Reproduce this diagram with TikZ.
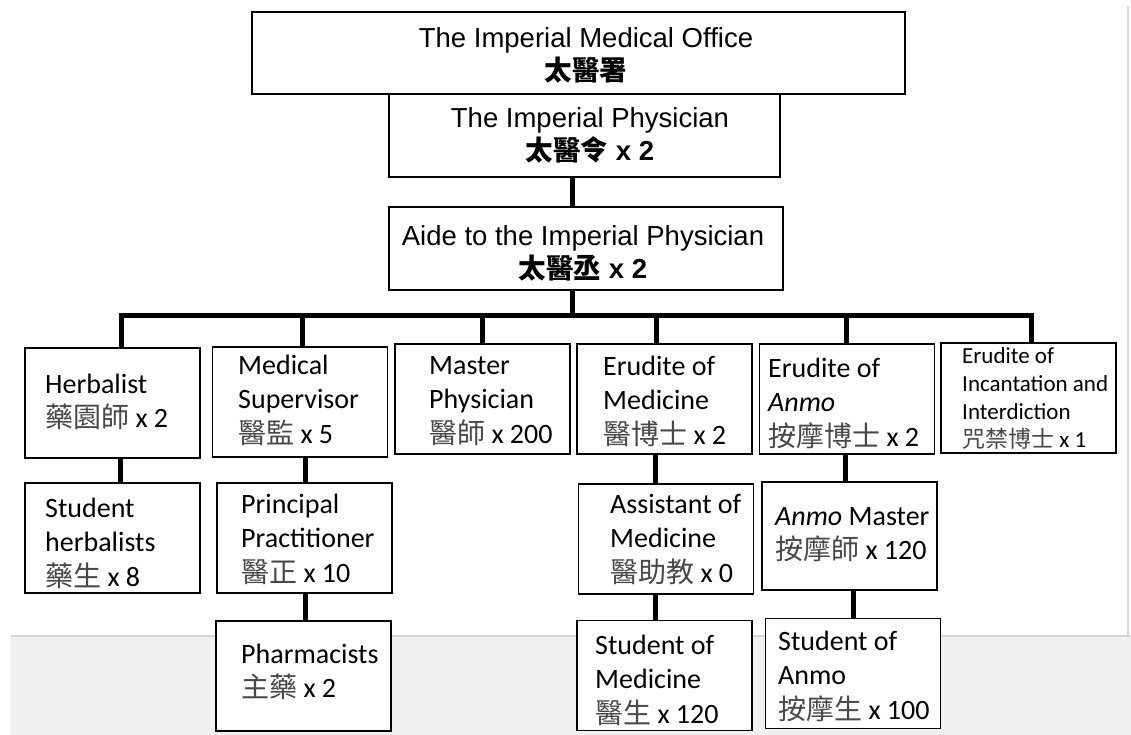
\documentclass[tikz,border=0pt]{standalone}
\usepackage{fontspec}
\setmainfont{Carlito}
\newfontfamily\arialfont{Liberation Sans}
\newfontfamily\cjk{Noto Sans CJK TC}
\usepackage{tikz}
\usetikzlibrary{positioning}
\definecolor{panelgray}{HTML}{F0F0F0}
\definecolor{panelline}{HTML}{D6D6D6}
\definecolor{hanzigray}{HTML}{484848}
\newcommand{\hanzi}[1]{{\cjk\color{hanzigray}#1}}
\tikzset{
  headbox/.style={draw, fill=white, line width=1.3pt, inner sep=0pt},
  headtext/.style={anchor=base, align=flush center, inner sep=0pt, text width=420pt,
    font=\arialfont\fontsize{27.5}{33}\selectfont},
  rankbox/.style={draw, fill=white, line width=1.2pt, inner sep=0pt,
    minimum width=175pt, minimum height=110pt},
  ranktext/.style={anchor=base west, align=flush left, inner sep=0pt, text width=165pt,
    font=\fontsize{28}{34.5}\selectfont},
  link/.style={line width=5pt}
}

\begin{document}
\begin{tikzpicture}[x=1pt, y=-1pt]
    \useasboundingbox (0,0) rectangle (1131,735);
    % window background
    \fill[white] (0,0) rectangle (1131,735);
    \fill[panelgray] (11,636) rectangle (1131,735);
    \draw[panelline, line width=2pt] (11,636) -- (1131,636);
    \draw[panelline, line width=2pt] (1128,6) -- (1128,636);

    % head offices
    \node[headbox, minimum width=653pt, minimum height=82pt] (office) at (578.5,53) {};
    \node[headbox, minimum width=391pt, minimum height=83pt] (phys) at (584.5,135.5) {};
    \node[headbox, minimum width=394pt, minimum height=83pt] (aide) at (586,248.5) {};
    \node[headtext] (office-t) at (586,48)
        {The Imperial Medical Office\\{\cjk\bfseries 太醫署}};
    \node[headtext] (phys-t) at (590,128)
        {The Imperial Physician\\\textbf{{\cjk 太醫令} x 2}};
    \node[headtext] (aide-t) at (583,245)
        {Aide to the Imperial Physician\\\textbf{{\cjk 太醫丞} x 2}};
    \coordinate (bus) at (572,315);

    % first rank
    \node[rankbox] (herb) at (112.5,403) {};
    \node[rankbox] (sup) at (300,402) {};
    \node[rankbox] (master) at (482.5,399) {};
    \node[rankbox] (erumed) at (664.5,399) {};
    \node[rankbox] (eruanmo) at (847,399) {};
    \node[rankbox] (incant) at (1028.5,398) {};

    % second and third rank
    \node[rankbox] (studherb) at (112.5,538) {};
    \node[rankbox] (princ) at (304.5,538) {};
    \node[rankbox] (pharm) at (303.5,676) {};
    \node[rankbox] (asst) at (666,539) {};
    \node[rankbox, minimum height=108pt] (anmomaster) at (849.5,536) {};
    \node[rankbox] (studmed) at (664.5,675.5) {};
    \node[rankbox] (studanmo) at (853,673.5) {};

    % texts
    \node[ranktext] (herb-t) at (45,393) {Herbalist\\\hanzi{藥園師} x 2};
    \node[ranktext] (sup-t) at (238,374) {Medical\\Supervisor\\\hanzi{醫監} x 5};
    \node[ranktext] (master-t) at (429,374) {Master\\Physician\\\hanzi{醫師} x 200};
    \node[ranktext] (erumed-t) at (603,375) {Erudite of\\Medicine\\\hanzi{醫博士} x 2};
    \node[ranktext] (eruanmo-t) at (768,377) {Erudite of\\\textit{Anmo}\\\hanzi{按摩博士} x 2};
    \node[ranktext, font=\fontsize{23}{28}\selectfont] (incant-t) at (962,363)
        {Erudite of\\Incantation and\\Interdiction\\\hanzi{咒禁博士} x 1};
    \node[ranktext] (studherb-t) at (45,517) {Student\\herbalists\\\hanzi{藥生} x 8};
    \node[ranktext] (princ-t) at (241,513) {Principal\\Practitioner\\\hanzi{醫正} x 10};
    \node[ranktext] (pharm-t) at (241,663) {Pharmacists\\\hanzi{主藥} x 2};
    \node[ranktext] (asst-t) at (610,513) {Assistant of\\Medicine\\\hanzi{醫助教} x 0};
    \node[ranktext] (anmomaster-t) at (775,525) {\textit{Anmo} Master\\\hanzi{按摩師} x 120};
    \node[ranktext] (studmed-t) at (595,654) {Student of\\Medicine\\\hanzi{醫生} x 120};
    \node[ranktext] (studanmo-t) at (778,650) {Student of\\Anmo\\\hanzi{按摩生} x 100};

    % connectors
    \draw[link] (phys.south -| bus) -- (aide.north -| bus);
    \draw[link] (aide.south -| bus) -- (bus);
    \draw[link, line cap=rect] ([xshift=8.5pt]herb.north |- bus) -- ([xshift=2.5pt]incant.north |- bus);
    \draw[link] ([xshift=8.5pt]herb.north) -- ([xshift=8.5pt]herb.north |- bus);
    \draw[link] ([xshift=2pt]sup.north) -- ([xshift=2pt]sup.north |- bus);
    \draw[link] (master.north) -- (master.north |- bus);
    \draw[link] ([xshift=-8.5pt]erumed.north) -- ([xshift=-8.5pt]erumed.north |- bus);
    \draw[link] ([xshift=-1pt]eruanmo.north) -- ([xshift=-1pt]eruanmo.north |- bus);
    \draw[link] ([xshift=2.5pt]incant.north) -- ([xshift=2.5pt]incant.north |- bus);

    \draw[link] ([xshift=7.5pt]herb.south) -- ([xshift=7.5pt]herb.south |- studherb.north);
    \draw[link] ([xshift=5pt]sup.south) -- ([xshift=5pt]sup.south |- princ.north);
    \draw[link] ([xshift=0.5pt]princ.south) -- ([xshift=0.5pt]princ.south |- pharm.north);
    \draw[link] ([xshift=-9.5pt]erumed.south) -- ([xshift=-9.5pt]erumed.south |- asst.north);
    \draw[link] ([xshift=-11pt]asst.south) -- ([xshift=-11pt]asst.south |- studmed.north);
    \draw[link] ([xshift=-2pt]eruanmo.south) -- ([xshift=-2pt]eruanmo.south |- anmomaster.north);
    \draw[link] ([xshift=3.5pt]anmomaster.south) -- ([xshift=3.5pt]anmomaster.south |- studanmo.north);
\end{tikzpicture}
\end{document}
